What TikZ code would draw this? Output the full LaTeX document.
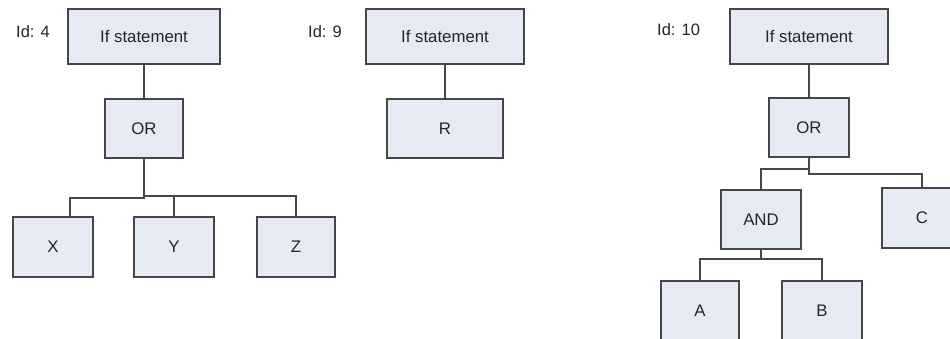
\documentclass[tikz,border=0pt]{standalone}
\usepackage{fontspec}
\setmainfont{Liberation Sans}
\begin{document}
\begin{tikzpicture}[x=1pt,y=-1pt,
  box/.style={draw=boxline, fill=boxfill, line width=1.8pt, inner sep=0pt,
    font=\fontsize{16.8}{20}\selectfont, text=black!85},
  idlabel/.style={anchor=west, inner sep=0pt, font=\fontsize{16.5}{20}\selectfont, text=black!85},
  link/.style={draw=linkcol, line width=1.6pt}]
\definecolor{boxfill}{RGB}{229,234,245}
\definecolor{boxline}{RGB}{70,70,70}
\definecolor{linkcol}{RGB}{70,70,70}
\clip (0,0) rectangle (950,339);
\fill[white] (0,0) rectangle (950,339);

% first tree: Id 4
\node[idlabel] (id4) at (16,32) {Id: 4};
\node[box, minimum width=152, minimum height=55] (if1) at (144,36.5) {If statement};
\node[box, minimum width=78, minimum height=59] (or1) at (144,128.5) {OR};
\node[box, minimum width=80, minimum height=60] (x) at (53,247) {X};
\node[box, minimum width=80, minimum height=60] (y) at (174,247) {Y};
\node[box, minimum width=78, minimum height=60] (z) at (296,247) {Z};
\draw[link] (if1.south) -- (or1.north);
\draw[link] (or1.south) -- ++(0,39) -| ([xshift=17]x.north);
\draw[link] (or1.south) -- ++(0,37) -| (y.north);
\draw[link] (or1.south) -- ++(0,37) -| (z.north);

% second tree: Id 9
\node[idlabel] (id9) at (308,32) {Id: 9};
\node[box, minimum width=158, minimum height=55] (if2) at (445,36.5) {If statement};
\node[box, minimum width=116, minimum height=59] (r) at (445,128.5) {R};
\draw[link] (if2.south) -- (r.north);

% third tree: Id 10
\node[idlabel] (id10) at (657,30) {Id: 10};
\node[box, minimum width=158, minimum height=55] (if3) at (809,36.5) {If statement};
\node[box, minimum width=80, minimum height=59] (or3) at (809,127.5) {OR};
\node[box, minimum width=80, minimum height=59] (and) at (761,219.5) {AND};
\node[box, minimum width=80, minimum height=60] (c) at (922,218) {C};
\node[box, minimum width=78, minimum height=59] (a) at (700,310.5) {A};
\node[box, minimum width=80, minimum height=59] (b) at (822,310.5) {B};
\draw[link] (if3.south) -- (or3.north);
\draw[link] (or3.south) -- ++(0,11) -| (and.north);
\draw[link] (or3.south) -- ++(0,16) -| (c.north);
\draw[link] (and.south) -- ++(0,9) -| (a.north);
\draw[link] (and.south) -- ++(0,9) -| (b.north);
\end{tikzpicture}
\end{document}
